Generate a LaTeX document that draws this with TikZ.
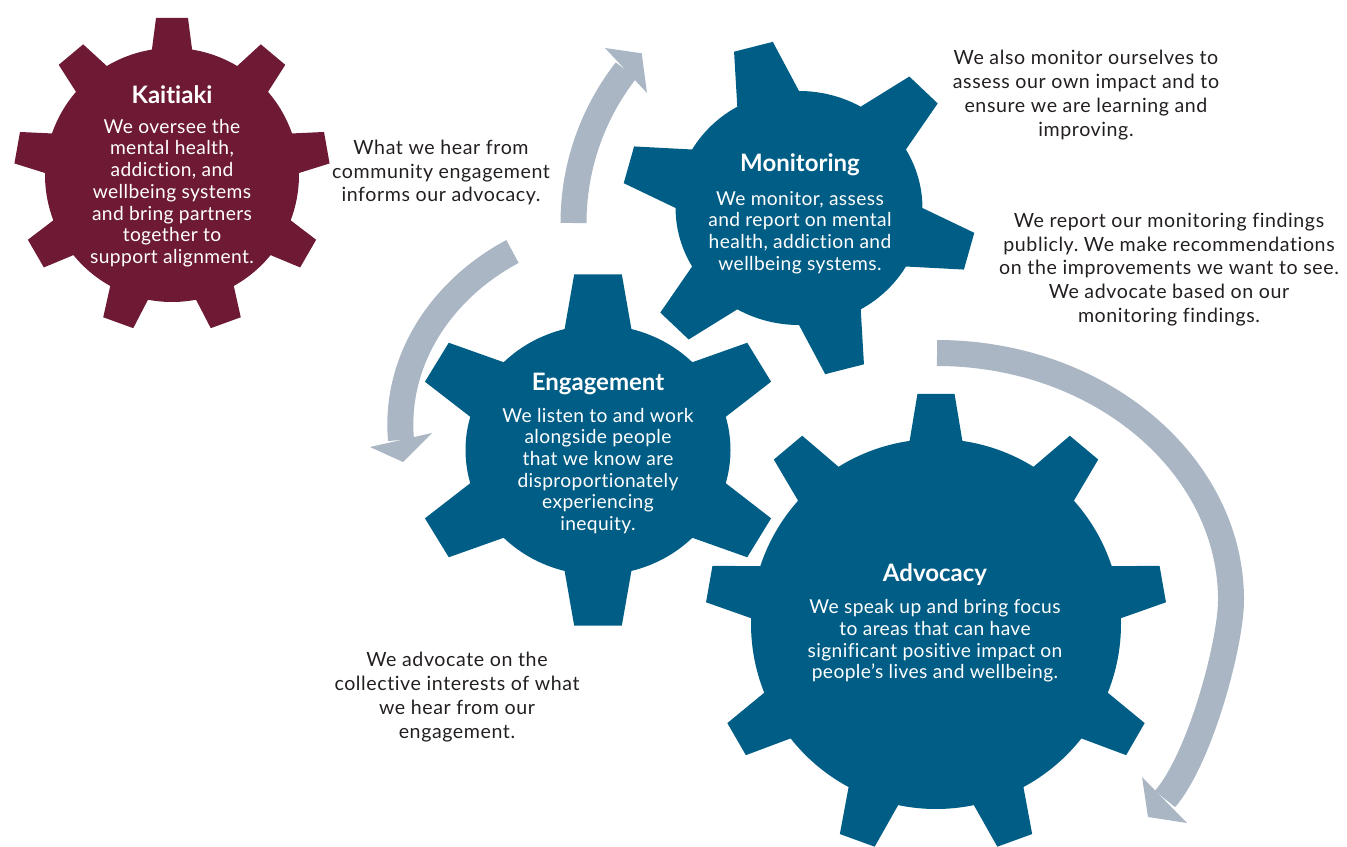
\documentclass[tikz,border=0pt]{standalone}
\usepackage{fontspec}
\setmainfont{Lato}[Ligatures={TeX,NoCommon}]
\newfontfamily\cogfont{Lato}[LetterSpace=2, Ligatures={TeX,NoCommon}]
\newfontfamily\notefont{Lato}[LetterSpace=3, Ligatures={TeX,NoCommon}]
\usetikzlibrary{calc}
\frenchspacing

\definecolor{cogred}{RGB}{110,26,52}
\definecolor{cogblue}{RGB}{0,94,134}
\definecolor{arrowgrey}{RGB}{170,182,196}
\definecolor{inktext}{RGB}{35,31,32}

% \cog{colour}{centre}{body radius}{tip radius}{teeth}{first tooth angle}{half tip angle}{half base angle}{xscale}
\newcommand\cog[9]{%
  \pgfmathsetmacro\cogstep{360/#5}%
  \fill[#1, shift={(#2)}, xscale=#9] ({#6-#8}:#3)
    \foreach \k in {1,...,#5}{
      -- ({#6+(\k-1)*\cogstep-#7}:#4)
      -- ({#6+(\k-1)*\cogstep+#7}:#4)
      -- ({#6+(\k-1)*\cogstep+#8}:#3)
      arc[start angle={#6+(\k-1)*\cogstep+#8}, delta angle={\cogstep-2*#8}, radius=#3]
    } -- cycle;%
}

\begin{document}
\begin{tikzpicture}[x=0.5pt, y=-0.5pt,
  band/.style={draw=arrowgrey, line width=13pt, line cap=butt},
  arrowhead/.style={fill=arrowgrey},
  cogtitle/.style={text=white, font=\bfseries\fontsize{12}{13}\selectfont, inner sep=0pt, anchor=base},
  cogtext/.style={text=white, font=\cogfont\fontsize{9.6}{10.85}\selectfont, align=center, inner sep=0pt},
  note/.style={text=inktext, font=\notefont\fontsize{9.8}{11.9}\selectfont, align=center, inner sep=0pt}]

\useasboundingbox (0,0) rectangle (1347,846);

% gear centres
\coordinate (kc) at (172,175);
\coordinate (mc) at (799,208);
\coordinate (ec) at (598,450);
\coordinate (ac) at (936,624);

% circular arrows
\coordinate (a1s) at (573.5,223);
\draw[band] (a1s) arc[start angle=180, end angle=218, radius=248] coordinate (a1e);
\coordinate (h1a) at (605,48);
\coordinate (h1t) at (641.7,53.3);
\coordinate (h1b) at (647,93);
\fill[arrowhead] (h1a) -- (h1t) -- (h1b) -- cycle;

\coordinate (a2s) at (512.5,251.5);
\coordinate (a2e) at (401,440);
\draw[band] (a2s) .. controls (442,289) and (394,360) .. (a2e);
\coordinate (h2a) at (370,447);
\coordinate (h2t) at (403,462);
\coordinate (h2b) at (432,433);
\fill[arrowhead] (h2a) -- (h2t) -- (h2b) -- cycle;

\coordinate (a3s) at (937,353);
\coordinate (a3m) at (1231,600);
\coordinate (a3e) at (1165,799);
\draw[band] (a3s) .. controls (1099,353) and (1231,464) .. (a3m)
  .. controls (1231,642) and (1201,757) .. (a3e);
\coordinate (h3a) at (1142,777);
\coordinate (h3t) at (1148,817);
\coordinate (h3b) at (1187,823);
\fill[arrowhead] (h3a) -- (h3t) -- (h3b) -- cycle;

% gears
\cog{cogred}{kc}{127}{158}{9}{-90}{5.8}{9.1}{1}
\cog{cogblue}{mc}{117}{168}{6}{-105}{6.5}{15}{1.055}
\cog{cogblue}{ec}{125}{177}{6}{-90}{7.3}{14.6}{1.06}
\cog{cogblue}{ac}{185}{231}{9}{-90}{4.6}{8.2}{1}

% gear texts
\node[cogtitle] (ktitle) at (172,103) {Kaitiaki};
\node[cogtext] (kbody) at (172,193) {We oversee the\\mental health,\\addiction, and\\wellbeing systems\\and bring partners\\together to\\support alignment.};

\node[cogtitle] (mtitle) at (800,171) {Monitoring};
\node[cogtext] (mbody) at (800,232.5) {We monitor, assess\\and report on mental\\health, addiction and\\wellbeing systems.};

\node[cogtitle] (etitle) at (598,390) {Engagement};
\node[cogtext] (ebody) at (598,471) {We listen to and work\\alongside people\\that we know are\\disproportionately\\experiencing\\inequity.};

\node[cogtitle] (atitle) at (935,581) {Advocacy};
\node[cogtext] (abody) at (935,641) {We speak up and bring focus\\to areas that can have\\significant positive impact on\\people’s lives and wellbeing.};

% side notes
\node[note] (hear) at (441,172.5) {What we hear from\\community engagement\\informs our advocacy.};
\node[note] (self) at (1086,95) {We also monitor ourselves to\\assess our own impact and to\\ensure we are learning and\\improving.};
\node[note] (report) at (1169,269.5) {We report our monitoring findings\\publicly. We make recommendations\\on the improvements we want to see.\\We advocate based on our\\monitoring findings.};
\node[note] (collective) at (457,697) {We advocate on the\\collective interests of what\\we hear from our\\engagement.};

\end{tikzpicture}
\end{document}
